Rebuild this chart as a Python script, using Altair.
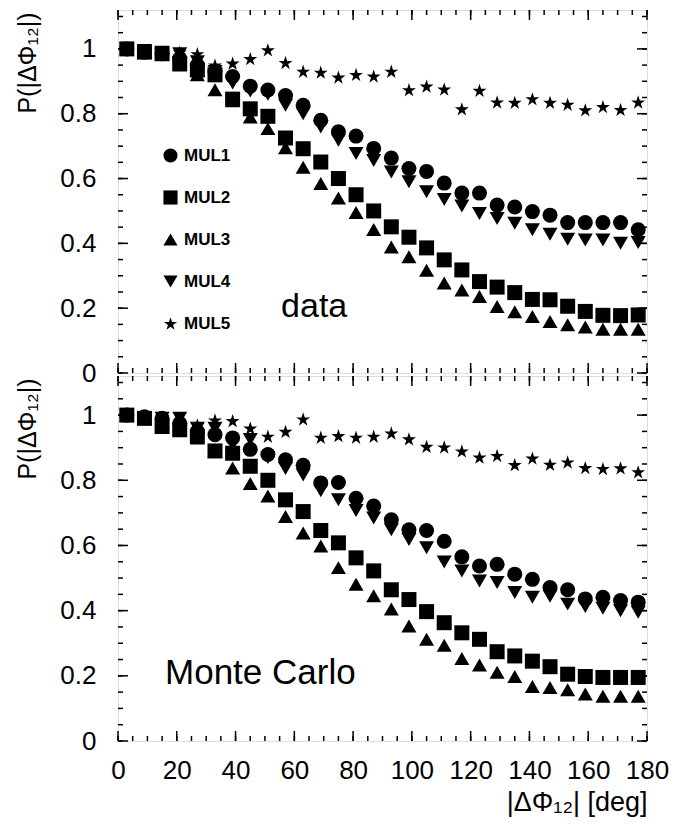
import altair as alt
import pandas as pd

# bin centres of |dPhi12| in degrees
angles = [3, 9, 15, 21, 27, 33, 39, 45, 51, 57, 63, 69, 75, 81, 87,
          93, 99, 105, 111, 117, 123, 129, 135, 141, 147, 153, 159, 165, 171, 177]

series_names = ["MUL1", "MUL2", "MUL3", "MUL4", "MUL5"]

# top panel: data
data_mul1 = [1.0, 0.99, 0.985, 0.97, 0.95, 0.93, 0.915, 0.885, 0.873, 0.856, 0.826, 0.78, 0.744, 0.731, 0.693,
             0.663, 0.631, 0.622, 0.586, 0.555, 0.555, 0.518, 0.512, 0.498, 0.487, 0.464, 0.464, 0.464, 0.464, 0.442]
data_mul2 = [1.0, 0.99, 0.985, 0.955, 0.935, 0.92, 0.845, 0.815, 0.792, 0.725, 0.692, 0.651, 0.60, 0.55, 0.50,
             0.451, 0.419, 0.386, 0.349, 0.318, 0.282, 0.265, 0.248, 0.227, 0.226, 0.206, 0.190, 0.178, 0.177, 0.179]
data_mul3 = [1.0, 0.99, 0.985, 0.95, 0.92, 0.874, 0.84, 0.79, 0.754, 0.695, 0.635, 0.585, 0.54, 0.495, 0.443,
             0.389, 0.359, 0.317, 0.278, 0.256, 0.236, 0.205, 0.189, 0.174, 0.159, 0.149, 0.142, 0.135, 0.135, 0.135]
data_mul4 = [1.0, 0.995, 0.99, 0.985, 0.96, 0.93, 0.895, 0.87, 0.86, 0.826, 0.80, 0.759, 0.718, 0.677, 0.656,
             0.62, 0.59, 0.559, 0.535, 0.515, 0.492, 0.477, 0.462, 0.442, 0.428, 0.413, 0.41, 0.41, 0.40, 0.403]
data_mul5 = [1.0, 0.99, 0.99, 0.99, 0.985, 0.95, 0.956, 0.97, 0.997, 0.958, 0.931, 0.928, 0.913, 0.921, 0.916,
             0.931, 0.874, 0.885, 0.876, 0.815, 0.872, 0.836, 0.835, 0.846, 0.835, 0.829, 0.812, 0.822, 0.813, 0.836]

# bottom panel: Monte Carlo
mc_mul1 = [1.0, 0.995, 0.99, 0.975, 0.95, 0.94, 0.93, 0.895, 0.879, 0.863, 0.846, 0.792, 0.793, 0.745, 0.721,
           0.679, 0.648, 0.646, 0.613, 0.565, 0.537, 0.542, 0.512, 0.496, 0.471, 0.464, 0.436, 0.441, 0.431, 0.426]
mc_mul2 = [1.0, 0.99, 0.965, 0.955, 0.935, 0.89, 0.883, 0.843, 0.80, 0.740, 0.704, 0.646, 0.608, 0.562, 0.522,
           0.464, 0.434, 0.397, 0.363, 0.332, 0.312, 0.274, 0.261, 0.245, 0.228, 0.205, 0.198, 0.195, 0.195, 0.195]
mc_mul3 = [1.0, 0.99, 0.98, 0.97, 0.93, 0.89, 0.838, 0.79, 0.752, 0.689, 0.638, 0.598, 0.532, 0.481, 0.446,
           0.405, 0.353, 0.312, 0.294, 0.253, 0.233, 0.211, 0.198, 0.167, 0.164, 0.157, 0.144, 0.137, 0.137, 0.137]
mc_mul4 = [1.0, 0.99, 0.99, 0.99, 0.96, 0.96, 0.91, 0.925, 0.87, 0.836, 0.816, 0.768, 0.740, 0.707, 0.684,
           0.648, 0.618, 0.593, 0.549, 0.522, 0.491, 0.486, 0.456, 0.441, 0.444, 0.420, 0.413, 0.407, 0.400, 0.395]
mc_mul5 = [1.0, 0.99, 0.99, 0.98, 0.97, 0.985, 0.983, 0.960, 0.935, 0.950, 0.988, 0.932, 0.937, 0.932, 0.935,
           0.945, 0.927, 0.904, 0.902, 0.890, 0.871, 0.876, 0.848, 0.868, 0.849, 0.856, 0.839, 0.836, 0.838, 0.826]

x_major = [0, 20, 40, 60, 80, 100, 120, 140, 160, 180]
x_minor = list(range(0, 181, 5))
y_major = [0, 0.2, 0.4, 0.6, 0.8, 1.0]
y_minor = [round(0.05 * i, 2) for i in range(23)]

# panel annotations (data units)
panel_labels = ["data", "Monte Carlo"]
panel_label_x = [55.5, 16.0]
panel_label_y = [0.172, 0.175]

STAR = ("M0,-0.89 L0.2195,-0.2101 L0.9297,-0.2101 L0.3551,0.2073 L0.5745,0.8829 "
        "L0,0.4654 L-0.5745,0.8829 L-0.3551,0.2073 L-0.9297,-0.2101 L-0.2195,-0.2101 Z")
shapes = ["circle", "square", "triangle-up", "triangle-down", STAR]

FONT = "Liberation Sans"
W = 529
YMAX = 1.12
MAJ = 10
MIN = 5


def long_frame(lists):
    rows = []
    for name, vals in zip(series_names, lists):
        for a, v in zip(angles, vals):
            rows.append({"deg": a, "p": v, "series": name})
    return pd.DataFrame(rows)


df_data = long_frame([data_mul1, data_mul2, data_mul3, data_mul4, data_mul5])
df_mc = long_frame([mc_mul1, mc_mul2, mc_mul3, mc_mul4, mc_mul5])

xs = alt.Scale(domain=[0, 180], nice=False, zero=False)
ys = alt.Scale(domain=[0, YMAX], nice=False, zero=False)


def tick_layers(H):
    layers = []
    for vals, L in ((y_major, MAJ), (y_minor, MIN)):
        d = pd.DataFrame({"v": vals})
        layers.append(alt.Chart(d).mark_rule(color="black", strokeWidth=1.5).encode(
            y=alt.Y("v:Q", scale=ys, axis=None), x=alt.value(0), x2=alt.value(L)))
        layers.append(alt.Chart(d).mark_rule(color="black", strokeWidth=1.5).encode(
            y=alt.Y("v:Q", scale=ys, axis=None), x=alt.value(W - L), x2=alt.value(W)))
    for vals, L in ((x_major, MAJ), (x_minor, MIN)):
        d = pd.DataFrame({"v": vals})
        layers.append(alt.Chart(d).mark_rule(color="black", strokeWidth=1.5).encode(
            x=alt.X("v:Q", scale=xs, axis=None), y=alt.value(H - L), y2=alt.value(H)))
        layers.append(alt.Chart(d).mark_rule(color="black", strokeWidth=1.5).encode(
            x=alt.X("v:Q", scale=xs, axis=None), y=alt.value(0), y2=alt.value(L)))
    return layers


def panel(df, H, bottom, idx):
    base = alt.Chart(df)
    if bottom:
        xaxis = alt.Axis(values=x_major, ticks=False, domain=False, grid=False,
                         labelFlush=False, labelOverlap=False, labelPadding=16,
                         labelFontSize=26, labelFont=FONT,
                         title="|ΔΦ₁₂| [deg]", titleFont=FONT, titleFontSize=27,
                         titleFontWeight="normal", titleAnchor="end", titleAlign="right",
                         titleX=W, titleY=69, titleBaseline="alphabetic")
    else:
        xaxis = None
    yaxis = alt.Axis(values=y_major, ticks=False, domain=False, grid=False, format=".1~f",
                     labelPadding=22, labelFontSize=26, labelFont=FONT,
                     labelOverlap=False, labelFlush=False,
                     title="P(|ΔΦ₁₂|)", titleFont=FONT, titleFontSize=25, titleFontWeight="normal",
                     titleAngle=270, titleAlign="right", titleBaseline="alphabetic",
                     titleX=-83, titleY=2)
    if bottom:
        legend = None
    else:
        legend = alt.Legend(orient="none", legendX=44, legendY=137, title=None,
                            labelFont=FONT, labelFontSize=17, labelFontWeight="bold",
                            symbolSize=200, symbolFillColor="black", symbolStrokeColor="black",
                            symbolStrokeWidth=0, rowPadding=24, labelOffset=5, padding=0)
    pts = base.mark_point(filled=True, size=225, color="black", opacity=1).encode(
        x=alt.X("deg:Q", scale=xs, axis=xaxis),
        y=alt.Y("p:Q", scale=ys, axis=yaxis),
        shape=alt.Shape("series:N", scale=alt.Scale(domain=series_names, range=shapes),
                        legend=legend, sort=series_names),
    )
    lab_df = pd.DataFrame({"x": [panel_label_x[idx]], "y": [panel_label_y[idx]],
                           "t": [panel_labels[idx]]})
    txt = alt.Chart(lab_df).mark_text(align="left", baseline="alphabetic", font=FONT,
                                      fontSize=34 if idx == 0 else 35, color="black").encode(
        x=alt.X("x:Q", scale=xs, axis=None),
        y=alt.Y("y:Q", scale=ys, axis=None),
        text="t:N",
    )
    return alt.layer(pts, txt, *tick_layers(H)).resolve_axis(
        x="independent", y="independent").properties(width=W, height=H)


top = panel(df_data, 363, False, 0)
bot = panel(df_mc, 365, True, 1)

chart = alt.vconcat(top, bot, spacing=3, bounds="flush").resolve_scale(
    shape="independent").resolve_legend(shape="independent").properties(
    padding={"left": 6, "top": 0, "right": 5, "bottom": 5}
).configure_view(stroke="black", strokeWidth=2.5).configure_axis(
    labelColor="black", titleColor="black"
).configure(background="white")

chart.save("out.html", embed_options={"renderer": "svg", "actions": False})
